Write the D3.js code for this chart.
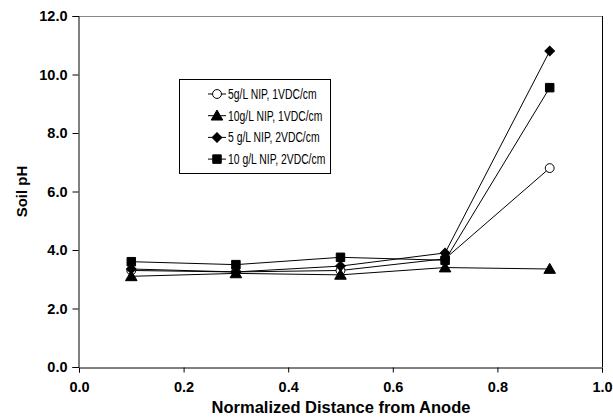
<!DOCTYPE html>
<html>
<head>
<meta charset="utf-8">
<script src="https://cdn.jsdelivr.net/npm/d3@7"></script>
<style>
  body { margin: 0; background: #fff; }
  text { font-family: "Liberation Sans", Arial, sans-serif; }
</style>
</head>
<body>
<div id="chart"></div>
<script>
const distance = [0.1, 0.3, 0.5, 0.7, 0.9];
const circle1V = [3.3, 3.25, 3.3, 3.7, 6.8];
const triangle1V = [3.1, 3.2, 3.15, 3.4, 3.35];
const diamond2V = [3.35, 3.25, 3.45, 3.9, 10.8];
const square2V = [3.6, 3.5, 3.75, 3.65, 9.55];
const seriesNames = ["5g/L NIP, 1VDC/cm", "10g/L NIP, 1VDC/cm", "5 g/L NIP, 2VDC/cm", "10 g/L NIP, 2VDC/cm"];
const xTicks = [0, 0.2, 0.4, 0.6, 0.8, 1.0];
const yTicks = [0, 2, 4, 6, 8, 10, 12];

const series = [
    { name: seriesNames[0], values: circle1V, shape: "circle" },
    { name: seriesNames[1], values: triangle1V, shape: "triangle" },
    { name: seriesNames[2], values: diamond2V, shape: "diamond" },
    { name: seriesNames[3], values: square2V, shape: "square" }
];

const width = 613, height = 418;
const plotLeft = 79, plotRight = 602, plotTop = 16, plotBottom = 367;

const svg = d3.select("#chart").append("svg")
    .attr("width", width)
    .attr("height", height);

const x = d3.scaleLinear().domain([0, 1]).range([plotLeft, plotRight]);
const y = d3.scaleLinear().domain([0, 12]).range([plotBottom, plotTop]);

// frame: top gray, right black
svg.append("line")
    .attr("x1", plotLeft).attr("x2", plotRight)
    .attr("y1", plotTop + 0.5).attr("y2", plotTop + 0.5)
    .attr("stroke", "#888").attr("stroke-width", 1);
svg.append("line")
    .attr("x1", plotRight + 0.5).attr("x2", plotRight + 0.5)
    .attr("y1", plotTop).attr("y2", plotBottom)
    .attr("stroke", "#000").attr("stroke-width", 1);

const xAxis = svg.append("g")
    .attr("transform", `translate(0,${plotBottom + 0.5})`)
    .call(d3.axisBottom(x).tickValues(xTicks).tickFormat(d3.format(".1f")).tickSizeOuter(0).tickSize(5).tickPadding(9));
const yAxis = svg.append("g")
    .attr("transform", `translate(${plotLeft - 0.5},0)`)
    .call(d3.axisLeft(y).tickValues(yTicks).tickFormat(d3.format(".1f")).tickSizeOuter(0).tickSize(6).tickPadding(5));

[xAxis, yAxis].forEach(g => {
    g.selectAll("text")
        .attr("font-family", "Liberation Sans, Arial, sans-serif")
        .attr("font-size", 14.5)
        .attr("font-weight", "bold")
        .attr("fill", "#000");
    g.selectAll("line, path").attr("stroke", "#000");
});

svg.append("text")
    .attr("x", 341)
    .attr("y", 413)
    .attr("text-anchor", "middle")
    .attr("font-size", 16.5)
    .attr("font-weight", "bold")
    .text("Normalized Distance from Anode");

svg.append("text")
    .attr("transform", `translate(27,${(plotTop + plotBottom) / 2}) rotate(-90)`)
    .attr("text-anchor", "middle")
    .attr("font-size", 15)
    .attr("font-weight", "bold")
    .text("Soil pH");

const symbolFor = shape => {
    if (shape === "circle") return d3.symbol().type(d3.symbolCircle).size(62)();
    if (shape === "triangle") return d3.symbol().type(d3.symbolTriangle).size(58)();
    if (shape === "diamond") return d3.symbol().type(d3.symbolSquare).size(46)();
    return d3.symbol().type(d3.symbolSquare).size(72)();
};
const markerTransform = (shape, cx, cy) =>
    shape === "diamond" ? `translate(${cx},${cy}) rotate(45)`
    : `translate(${cx},${cy + (shape === "triangle" ? 1 : 0)})`;

const line = d3.line()
    .x((d, i) => x(distance[i]))
    .y(d => y(d));

series.forEach(s => {
    svg.append("path")
        .attr("d", line(s.values))
        .attr("fill", "none")
        .attr("stroke", "#000")
        .attr("stroke-width", 1);
});

series.forEach(s => {
    svg.selectAll(null)
        .data(s.values)
        .enter().append("path")
        .attr("d", symbolFor(s.shape))
        .attr("transform", (d, i) => markerTransform(s.shape, x(distance[i]), y(d)))
        .attr("fill", s.shape === "circle" ? "#fff" : "#000")
        .attr("stroke", "#000")
        .attr("stroke-width", 1);
});

// legend
const legend = svg.append("g");
legend.append("rect")
    .attr("x", 179.5).attr("y", 79.5)
    .attr("width", 151).attr("height", 94)
    .attr("fill", "#fff").attr("stroke", "#000").attr("stroke-width", 1);

series.forEach((s, i) => {
    const ly = 94 + i * 21.7;
    legend.append("line")
        .attr("x1", 208).attr("x2", 226)
        .attr("y1", ly).attr("y2", ly)
        .attr("stroke", "#000");
    legend.append("path")
        .attr("d", symbolFor(s.shape))
        .attr("transform", markerTransform(s.shape, 217, ly))
        .attr("fill", s.shape === "circle" ? "#fff" : "#000")
        .attr("stroke", "#000");
    const t = legend.append("text")
        .attr("x", 228)
        .attr("y", ly + 5)
        .attr("font-size", 14)
        .text(s.name);
    // the original legend face is narrower than Liberation Sans
    const w = t.node().getComputedTextLength();
    t.attr("textLength", w * 0.74).attr("lengthAdjust", "spacingAndGlyphs");
});
</script>
</body>
</html>
